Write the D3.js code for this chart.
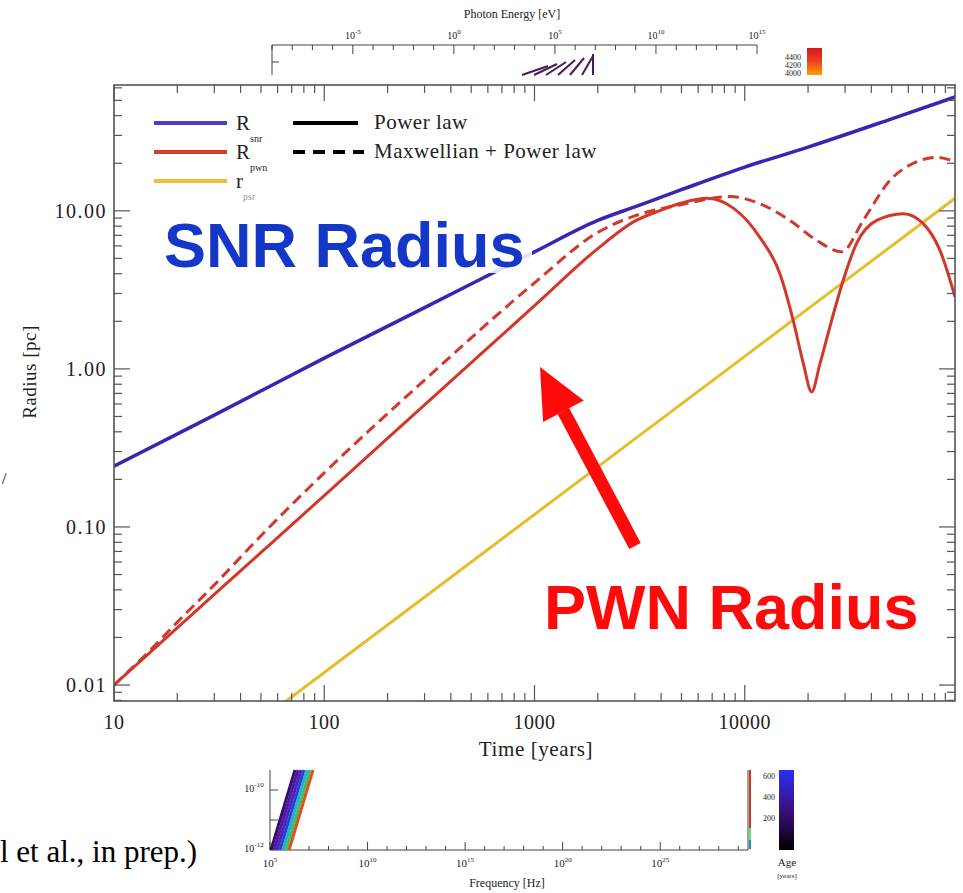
<!DOCTYPE html>
<html>
<head>
<meta charset="utf-8">
<script src="https://cdn.jsdelivr.net/npm/d3@7"></script>
<style>
  body { margin: 0; background: #fff; }
  svg { display: block; }
  text { font-family: "Liberation Serif", "DejaVu Serif", serif; fill: #222; }
</style>
</head>
<body>
<div id="chart"></div>
<script>
// time in years, radius in pc
var snrT = [10, 30, 100, 300, 1000, 2000, 3000, 5000, 10000, 20000, 50000, 100000];
var snrR = [0.242, 0.51, 1.17, 2.44, 5.5, 8.7, 10.6, 13.6, 18.9, 25.3, 38.2, 52.5];

var psrT = [10, 100, 1000, 10000, 100000];
var psrR = [0.0012, 0.012, 0.12, 1.2, 12.0];

var pwnT = [10, 30, 100, 300, 1000, 2000, 3000, 4000, 5000, 6600, 8830, 11800, 14700, 17000, 19000, 20800,
  22800, 25900, 29400, 34000, 42400, 56800, 70600, 84900, 100000];
var pwnR = [0.01, 0.0374, 0.158, 0.592, 2.51, 5.77, 8.6, 10.1, 11.2, 12.0, 10.4, 6.8, 4.0, 2.03, 1.08, 0.716,
  1.08, 2.03, 3.64, 6.2, 8.7, 9.6, 8.3, 5.6, 2.86];

var maxT = [10, 15, 20, 30, 50, 100, 300, 1000, 2000, 3000, 3500, 4920, 8510, 11800, 16400, 22000, 28900, 36600,
  49100, 65600, 81800, 100000];
var maxR = [0.01, 0.0168, 0.025, 0.043, 0.088, 0.22, 0.85, 3.5, 7.3, 9.3, 9.9, 10.9, 12.3, 11.1, 8.7, 6.5, 5.5, 8.7,
  15.6, 20.4, 21.8, 20.4];

var xTickVals = [10, 100, 1000, 10000];
var yTickVals = [0.01, 0.1, 1, 10];
var yTickLabels = ["0.01", "0.10", "1.00", "10.00"];

// bits of the two inset plots that peek out above and below
var topInsetTicks = [-5, 0, 5, 10, 15];
var topBarLabels = ["4400", "4200", "4000"];
var botInsetTicks = [5, 10, 15, 20, 25];
var botBarLabels = ["600", "400", "200"];

var width = 963, height = 893;
var margin = { top: 85, right: 8, bottom: 192, left: 114 };

var svg = d3.select("#chart").append("svg")
  .attr("width", width)
  .attr("height", height);
var defs = svg.append("defs");

// ---------- top inset (partly hidden) ----------
var topX = d3.scaleLinear().domain([-9, 15]).range([272, 757]);
var topG = svg.append("g");
topG.append("text").attr("x", 512).attr("y", 18).attr("text-anchor", "middle")
  .style("font-size", "12px").text("Photon Energy [eV]");
topG.append("path")
  .attr("d", "M272,75 V45 H" + topX(15))
  .attr("fill", "none").attr("stroke", "#444").attr("stroke-width", 1);
topG.selectAll(".tt").data(d3.range(-9, 16)).enter().append("line")
  .attr("x1", function (d) { return topX(d); }).attr("x2", function (d) { return topX(d); })
  .attr("y1", 45).attr("y2", function (d) { return d % 5 == 0 ? 54 : 50; })
  .attr("stroke", "#444");
topG.append("line").attr("x1", 272).attr("x2", 279).attr("y1", 62).attr("y2", 62).attr("stroke", "#444");
topG.selectAll(".tl").data(topInsetTicks).enter().append("text")
  .attr("x", function (d) { return topX(d); }).attr("y", 39)
  .attr("text-anchor", "middle").style("font-size", "10px")
  .text("10")
  .append("tspan").attr("dy", -5).style("font-size", "7px").text(function (d) { return d; });
topG.selectAll(".hatch").data(d3.range(6)).enter().append("line")
  .attr("x1", function (d) { return 522 + d * 12; }).attr("y1", 75)
  .attr("x2", function (d) { return 548 + d * 9; }).attr("y2", function (d) { return 66 - d * 2; })
  .attr("stroke", "#4a1a5a").attr("stroke-width", 2);
topG.append("line").attr("x1", 593).attr("x2", 593).attr("y1", 54).attr("y2", 75)
  .attr("stroke", "#4a1a5a").attr("stroke-width", 2);
var tg = defs.append("linearGradient").attr("id", "hot")
  .attr("x1", 0).attr("x2", 0).attr("y1", 0).attr("y2", 1);
tg.append("stop").attr("offset", 0).attr("stop-color", "#d81818");
tg.append("stop").attr("offset", 0.5).attr("stop-color", "#f04020");
tg.append("stop").attr("offset", 1).attr("stop-color", "#ffa000");
topG.append("rect").attr("x", 807).attr("y", 48).attr("width", 15).attr("height", 27).attr("fill", "url(#hot)");
topG.selectAll(".bl").data(topBarLabels).enter().append("text")
  .attr("x", 801).attr("y", function (d, i) { return 60 + i * 8; })
  .attr("text-anchor", "end").style("font-size", "8px").text(function (d) { return d; });

// ---------- bottom inset (partly hidden) ----------
var botX = d3.scaleLinear().domain([5, 29.5]).range([270, 748]);
var bot = svg.append("g");
bot.append("path").attr("d", "M270,770 V850 H748 V770")
  .attr("fill", "none").attr("stroke", "#444");
bot.selectAll(".bt").data(d3.range(5, 30)).enter().append("line")
  .attr("x1", function (d) { return botX(d); }).attr("x2", function (d) { return botX(d); })
  .attr("y1", 850).attr("y2", function (d) { return d % 5 == 0 ? 842 : 846; })
  .attr("stroke", "#444");
bot.selectAll(".yt").data([790, 820]).enter().append("line")
  .attr("x1", 270).attr("x2", 278).attr("y1", function (d) { return d; }).attr("y2", function (d) { return d; })
  .attr("stroke", "#444");
bot.selectAll(".btl").data(botInsetTicks).enter().append("text")
  .attr("x", function (d) { return botX(d); }).attr("y", 867)
  .attr("text-anchor", "middle").style("font-size", "11px").text("10")
  .append("tspan").attr("dy", -5).style("font-size", "7px").text(function (d) { return d; });
bot.append("text").attr("x", 507).attr("y", 887).attr("text-anchor", "middle")
  .style("font-size", "12px").text("Frequency [Hz]");
bot.append("text").attr("x", 254).attr("y", 792).attr("text-anchor", "middle").style("font-size", "10px")
  .text("10").append("tspan").attr("dy", -5).style("font-size", "7px").text("-10");
bot.append("text").attr("x", 254).attr("y", 852).attr("text-anchor", "middle").style("font-size", "10px")
  .text("10").append("tspan").attr("dy", -5).style("font-size", "7px").text("-12");
var sedColors = ["#3a0a6a", "#4a1aa0", "#5020c0", "#2a40d0", "#20b0d0", "#40c060", "#e05020"];
bot.selectAll(".sed").data(sedColors).enter().append("line")
  .attr("x1", function (d, i) { return 271 + i * 3; }).attr("y1", 850)
  .attr("x2", function (d, i) { return 295 + i * 3; }).attr("y2", 770)
  .attr("stroke", function (d) { return d; }).attr("stroke-width", 3);
bot.append("line").attr("x1", 750).attr("x2", 750).attr("y1", 770).attr("y2", 828)
  .attr("stroke", "#c8401a").attr("stroke-width", 2);
bot.append("line").attr("x1", 750).attr("x2", 750).attr("y1", 828).attr("y2", 840)
  .attr("stroke", "#60e080").attr("stroke-width", 2);
bot.append("line").attr("x1", 750).attr("x2", 750).attr("y1", 840).attr("y2", 849)
  .attr("stroke", "#3080d0").attr("stroke-width", 2);
var bg = defs.append("linearGradient").attr("id", "age")
  .attr("x1", 0).attr("x2", 0).attr("y1", 0).attr("y2", 1);
bg.append("stop").attr("offset", 0).attr("stop-color", "#2a30f0");
bg.append("stop").attr("offset", 0.5).attr("stop-color", "#3a1080");
bg.append("stop").attr("offset", 1).attr("stop-color", "#000");
bot.append("rect").attr("x", 779).attr("y", 770).attr("width", 15).attr("height", 80).attr("fill", "url(#age)");
bot.selectAll(".al").data(botBarLabels).enter().append("text")
  .attr("x", 775).attr("y", function (d, i) { return 779 + i * 21; })
  .attr("text-anchor", "end").style("font-size", "8px").text(function (d) { return d; });
bot.append("text").attr("x", 787).attr("y", 866).attr("text-anchor", "middle").style("font-size", "11px").text("Age");
bot.append("text").attr("x", 787).attr("y", 878).attr("text-anchor", "middle").style("font-size", "7px").text("[years]");

// slide fragments
svg.append("text").attr("x", 0).attr("y", 862).style("font-size", "31px").style("fill", "#000")
  .text("l et al., in prep.)");
svg.append("text").attr("x", 2).attr("y", 484).style("font-size", "16px").style("fill", "#000").text("/");

// ---------- main plot ----------
var x = d3.scaleLog().domain([10, 1e5]).range([margin.left, width - margin.right]);
var y = d3.scaleLog().domain([Math.pow(10, -2.101), Math.pow(10, 1.796)])
  .range([height - margin.bottom, margin.top]);

var x0 = x.range()[0], x1 = x.range()[1], y0 = y.range()[0], y1 = y.range()[1];

svg.append("rect").attr("x", x0).attr("y", y1).attr("width", x1 - x0).attr("height", y0 - y1)
  .attr("fill", "#fff");

defs.append("clipPath").attr("id", "plot").append("rect")
  .attr("x", x0).attr("y", y1).attr("width", x1 - x0).attr("height", y0 - y1);

var line = d3.line()
  .x(function (d) { return x(d[0]); })
  .y(function (d) { return y(d[1]); })
  .curve(d3.curveMonotoneX);

var lines = svg.append("g").attr("clip-path", "url(#plot)");

lines.append("path").datum(d3.zip(psrT, psrR))
  .attr("d", line).attr("fill", "none").attr("stroke", "#e6bd2a").attr("stroke-width", 3);
lines.append("path").datum(d3.zip(maxT, maxR))
  .attr("d", line).attr("fill", "none").attr("stroke", "#cf3a2c").attr("stroke-width", 3)
  .attr("stroke-dasharray", "11,6");
lines.append("path").datum(d3.zip(pwnT, pwnR))
  .attr("d", line).attr("fill", "none").attr("stroke", "#d2382a").attr("stroke-width", 3);
lines.append("path").datum(d3.zip(snrT, snrR))
  .attr("d", line).attr("fill", "none").attr("stroke", "#3a24b4").attr("stroke-width", 3.5);

// ticks on all four sides, pointing in
var minorX = [];
for (var e = 1; e < 5; e++) for (var m = 1; m < 10; m++) minorX.push(m * Math.pow(10, e));
var minorY = [];
for (var e2 = -3; e2 < 2; e2++) for (var m2 = 1; m2 < 10; m2++) {
  var v = m2 * Math.pow(10, e2);
  if (v >= y.domain()[0] && v <= y.domain()[1]) minorY.push(v);
}
var tickColor = "#555";
var ticks = svg.append("g").attr("stroke", tickColor).attr("stroke-width", 1.2);
minorX.forEach(function (d) {
  var len = (d === 10 || d === 100 || d === 1000 || d === 10000) ? 16 : 8;
  ticks.append("line").attr("x1", x(d)).attr("x2", x(d)).attr("y1", y0).attr("y2", y0 - len);
  ticks.append("line").attr("x1", x(d)).attr("x2", x(d)).attr("y1", y1).attr("y2", y1 + len);
});
minorY.forEach(function (d) {
  var len = yTickVals.some(function (t) { return Math.abs(t - d) < 1e-9; }) ? 16 : 8;
  ticks.append("line").attr("y1", y(d)).attr("y2", y(d)).attr("x1", x0).attr("x2", x0 + len);
  ticks.append("line").attr("y1", y(d)).attr("y2", y(d)).attr("x1", x1).attr("x2", x1 - len);
});

svg.append("rect").attr("x", x0).attr("y", y1).attr("width", x1 - x0).attr("height", y0 - y1)
  .attr("fill", "none").attr("stroke", tickColor).attr("stroke-width", 1.6);

svg.selectAll(".xl").data(xTickVals).enter().append("text")
  .attr("x", function (d) { return x(d); }).attr("y", 729)
  .attr("text-anchor", "middle").style("font-size", "20px").style("letter-spacing", "0.5px")
  .text(function (d) { return d; });
svg.selectAll(".yl").data(yTickVals).enter().append("text")
  .attr("x", 107).attr("y", function (d) { return y(d) + 7; })
  .attr("text-anchor", "end").style("font-size", "20px").style("letter-spacing", "1.5px")
  .text(function (d, i) { return yTickLabels[i]; });

svg.append("text").attr("x", 536).attr("y", 756).attr("text-anchor", "middle")
  .style("font-size", "21px").style("letter-spacing", "0.6px").text("Time [years]");
svg.append("text").attr("transform", "translate(36,372) rotate(-90)")
  .attr("text-anchor", "middle").style("font-size", "19px").style("letter-spacing", "0.5px").text("Radius [pc]");

// legend
var legItems = [
  { c: "#4a3ad0", sub: "snr" },
  { c: "#d2402c", sub: "pwn" },
  { c: "#e8c23a", sub: "psr" }
];
var leg = svg.append("g");
legItems.forEach(function (d, i) {
  var ly = 123 + i * 29;
  leg.append("line").attr("x1", 154).attr("x2", 227).attr("y1", ly).attr("y2", ly)
    .attr("stroke", d.c).attr("stroke-width", 4);
  var t = leg.append("text").attr("x", 236).attr("y", ly + 7).style("font-size", "21px")
    .text(i == 2 ? "r" : "R");
  t.append("tspan").attr("dy", 12).style("font-size", "10px").style("fill", i == 2 ? "#999" : "#222")
    .text(d.sub);
});
leg.append("line").attr("x1", 293).attr("x2", 358).attr("y1", 123).attr("y2", 123)
  .attr("stroke", "#000").attr("stroke-width", 4);
leg.append("line").attr("x1", 293).attr("x2", 364).attr("y1", 152).attr("y2", 152)
  .attr("stroke", "#000").attr("stroke-width", 4).attr("stroke-dasharray", "12,8");
leg.append("text").attr("x", 374).attr("y", 129).style("font-size", "21px").style("letter-spacing", "0.5px")
  .text("Power law");
leg.append("text").attr("x", 374).attr("y", 158).style("font-size", "21px").style("letter-spacing", "0.5px")
  .text("Maxwellian + Power law");

// annotations
svg.append("rect").attr("x", 160).attr("y", 215).attr("width", 372).attr("height", 58)
  .attr("fill", "#fff").attr("opacity", 0.85);
svg.append("text").attr("x", 164).attr("y", 267)
  .style("font-family", "'Liberation Sans', Arial, sans-serif").style("font-weight", "bold")
  .style("font-size", "63px").style("fill", "#1537c8").text("SNR Radius");
svg.append("text").attr("x", 544).attr("y", 629)
  .style("font-family", "'Liberation Sans', Arial, sans-serif").style("font-weight", "bold")
  .style("font-size", "63px").style("fill", "#ff0a0a").text("PWN Radius");

// arrow pointing at the PWN curve
var tip = [540, 367], tail = [635, 546];
var ang = Math.atan2(tail[1] - tip[1], tail[0] - tip[0]);
var headLen = 50, headW = 23;
var bx = tip[0] + headLen * Math.cos(ang), by = tip[1] + headLen * Math.sin(ang);
svg.append("line").attr("x1", tail[0]).attr("y1", tail[1]).attr("x2", bx).attr("y2", by)
  .attr("stroke", "#ff0a0a").attr("stroke-width", 13);
svg.append("path")
  .attr("d", "M" + tip[0] + "," + tip[1] +
    "L" + (bx + headW * Math.sin(ang)) + "," + (by - headW * Math.cos(ang)) +
    "L" + (bx - headW * Math.sin(ang)) + "," + (by + headW * Math.cos(ang)) + "Z")
  .attr("fill", "#ff0a0a");
</script>
</body>
</html>
